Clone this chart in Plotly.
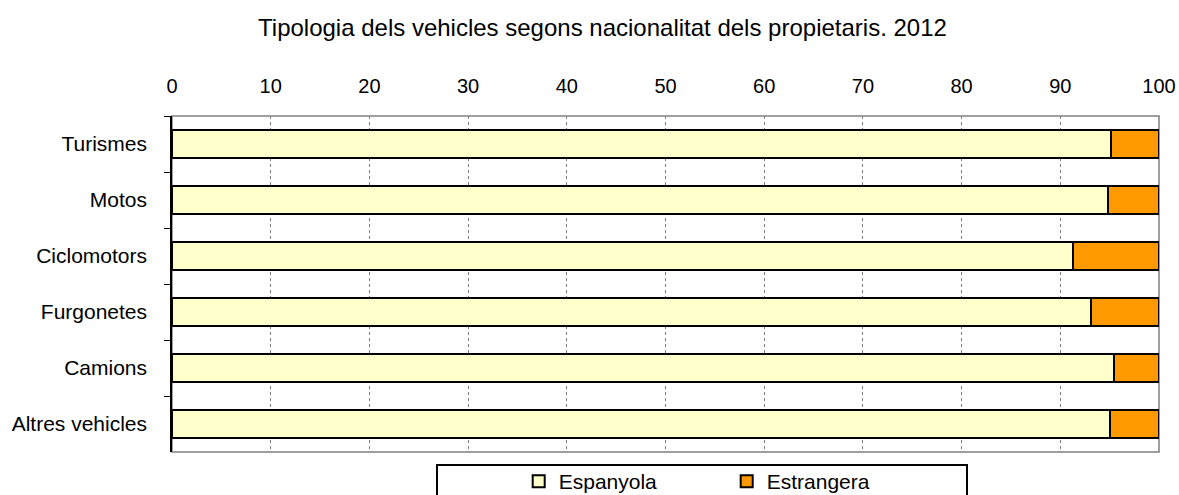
import plotly.graph_objects as go

categories = ["Turismes", "Motos", "Ciclomotors", "Furgonetes", "Camions", "Altres vehicles"]
espanyola = [95.1, 94.8, 91.3, 93.1, 95.4, 95.0]
estrangera = [round(100 - v, 1) for v in espanyola]
series_names = ["Espanyola", "Estrangera"]
colors = ["#FFFFCC", "#FF9900"]
title = "Tipologia dels vehicles segons nacionalitat dels propietaris. 2012"

fig = go.Figure()
for name, vals, col in zip(series_names, [espanyola, estrangera], colors):
    fig.add_trace(go.Bar(
        y=categories, x=vals, name=name, orientation="h",
        marker=dict(color=col, line=dict(color="black", width=2)),
        hoverinfo="x+y+name",
    ))

fig.update_layout(
    width=1179, height=495,
    barmode="stack", bargap=0.5,
    plot_bgcolor="white", paper_bgcolor="white",
    font=dict(family="Liberation Sans, Arial, sans-serif", size=20, color="black"),
    title=dict(text=title, x=0.511, xanchor="center", y=0.945, yanchor="middle",
               font=dict(size=24)),
    margin=dict(l=172, r=20, t=116, b=43, autoexpand=False),
    showlegend=True,
    legend=dict(orientation="h", x=0.562, xanchor="center", y=-0.027, yanchor="top",
                entrywidth=163, font=dict(size=21), bgcolor="rgba(0,0,0,0)",
                itemsizing="constant", traceorder="normal"),
)
fig.update_xaxes(side="top", range=[0, 100], dtick=10, showgrid=True,
                 gridcolor="#808080", griddash="dot", gridwidth=1,
                 showline=False, zeroline=False, ticks="", ticklabelstandoff=18,
                 tickfont=dict(size=20), automargin=False)
fig.update_yaxes(autorange="reversed", showgrid=False, showline=True,
                 linecolor="black", linewidth=1.5, ticks="outside", ticklen=6,
                 tickcolor="black", tickson="boundaries", tickfont=dict(size=21),
                 ticklabelstandoff=19, automargin=False)

# gray frame of the plot area
fig.add_shape(type="rect", xref="paper", yref="paper", x0=0, x1=1, y0=0, y1=1,
              line=dict(color="#808080", width=1.5), layer="below")
# legend frame
fig.add_shape(type="rect", xref="paper", yref="paper",
              x0=(437 - 172) / 987, x1=(967 - 172) / 987,
              y0=-0.14, y1=-0.0387,
              line=dict(color="black", width=2))

fig.write_html("out.html", config={"displayModeBar": False},
               post_script="document.body.style.margin='0';document.body.style.overflow='hidden';")
